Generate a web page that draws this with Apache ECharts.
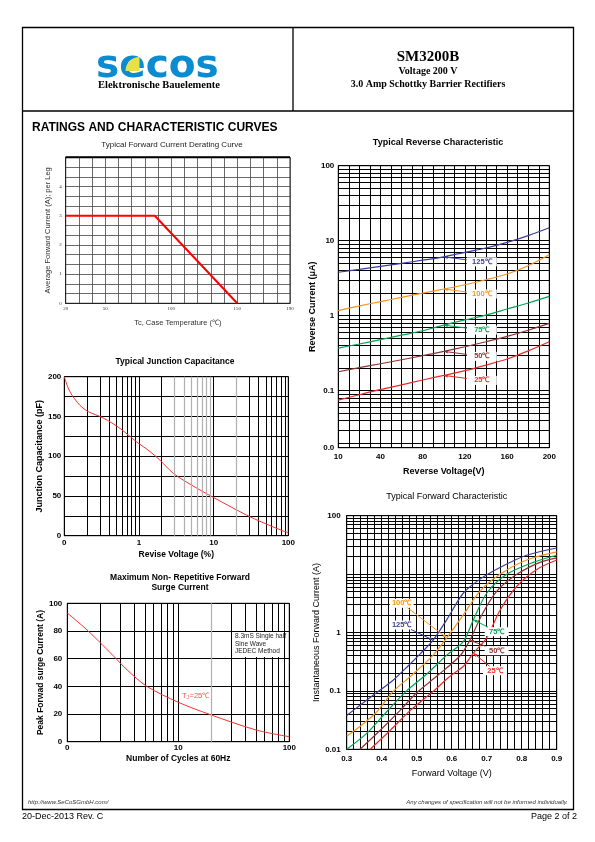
<!DOCTYPE html>
<html>
<head>
<meta charset="utf-8">
<title>SM3200B</title>
<script src="https://cdn.jsdelivr.net/npm/echarts@6/dist/echarts.min.js"></script>
<style>
html,body{margin:0;padding:0;background:#fff;}
#chart{width:595px;height:842px;}
</style>
</head>
<body>
<div id="chart"></div>
<script>
// ---------------- data ----------------
// Typical Forward Current Derating Curve
const deratingTemp = [20, 87.5, 150];
const deratingAmps = [3, 3, 0];
const deratingTempTicks = [20, 50, 100, 150, 190];

// Typical Reverse Characteristic
const revVoltTicks = [10, 40, 80, 120, 160, 200];
const revVoltSamples = [10, 25, 40, 60, 80, 100, 120, 140, 160, 180, 200];
const rev125 = [3.8, 4.16, 4.56, 5.0, 5.5, 6.1, 7.0, 8.0, 9.5, 11.7, 14.9];
const rev100 = [1.17, 1.35, 1.54, 1.76, 2.0, 2.27, 2.59, 3.02, 3.6, 4.64, 6.5];
const rev75 = [0.37, 0.42, 0.48, 0.55, 0.63, 0.75, 0.88, 1.02, 1.23, 1.48, 1.81];
const rev50 = [0.179, 0.203, 0.229, 0.259, 0.293, 0.335, 0.386, 0.45, 0.53, 0.64, 0.79];
const rev25 = [0.075, 0.0885, 0.104, 0.12, 0.139, 0.16, 0.185, 0.22, 0.265, 0.34, 0.45];
const revCurTickVals = [0.0174, 0.1, 1, 10, 100];
const revCurTickText = ['0.0', '0.1', '1', '10', '100'];

// Typical Junction Capacitance
const capVolt = [0.1, 0.119, 0.162, 0.21, 0.333, 0.557, 0.93, 1.4, 1.91, 2.88, 5, 10, 27.5, 46, 85, 100];
const capPF = [200, 181, 164, 156, 148, 135, 118, 106, 95, 78.5, 64, 48, 26, 16.4, 6, 4];
const capVoltTickVals = [0.1, 1, 10, 100];
const capVoltTickText = ['0', '1', '10', '100'];

// Maximum Non-Repetitive Forward Surge Current
const surgeCycles = [1, 1.4, 1.9, 2.6, 3.5, 5.2, 10, 19.5, 50, 100];
const surgeAmps = [93, 83, 73, 62, 51.5, 40, 28.5, 19.5, 8.5, 3.6];
const surgeTickVals = [1, 10, 100];
const surgeTickText = ['0', '10', '100'];

// Typical Forward Characteristic
const fwd125V = [0.30, 0.34, 0.39, 0.43, 0.476, 0.51, 0.547, 0.586, 0.633, 0.681, 0.738, 0.814, 0.90];
const fwd125I = [0.038, 0.058, 0.098, 0.148, 0.27, 0.43, 0.74, 1.66, 4.7, 8.2, 13, 21, 28];
const fwd100V = [0.30, 0.343, 0.386, 0.433, 0.49, 0.547, 0.586, 0.633, 0.681, 0.738, 0.814, 0.90];
const fwd100I = [0.0167, 0.026, 0.044, 0.098, 0.195, 0.41, 0.81, 2.0, 5.1, 9.9, 17.4, 24];
const fwd75V = [0.30, 0.357, 0.414, 0.471, 0.529, 0.586, 0.633, 0.662, 0.70, 0.757, 0.833, 0.90];
const fwd75I = [0.01, 0.0187, 0.044, 0.10, 0.195, 0.41, 0.70, 1.66, 4.7, 9.9, 15.9, 21];
const fwd50V = [0.338, 0.395, 0.452, 0.50, 0.557, 0.624, 0.652, 0.686, 0.729, 0.786, 0.852, 0.90];
const fwd50I = [0.01, 0.021, 0.046, 0.093, 0.178, 0.40, 0.74, 2.0, 5.1, 9.9, 15.9, 19];
const fwd25V = [0.367, 0.424, 0.481, 0.547, 0.595, 0.635, 0.662, 0.70, 0.738, 0.786, 0.843, 0.90];
const fwd25I = [0.01, 0.021, 0.046, 0.098, 0.178, 0.27, 0.445, 0.81, 2.4, 6.2, 12, 17.4];
const fwdCurTickVals = [0.01, 0.1, 1, 100];
const fwdCurTickText = ['0.01', '0.1', '1', '100'];

// ---------------- helpers ----------------
const FONT = "'Liberation Sans', Arial, Helvetica, sans-serif";
const SERIF = "'Liberation Serif', 'Times New Roman', serif";
const COL = { blue: '#3d3d9c', orange: '#f7941d', green: '#00a651', brown: '#8e3434', red: '#ee2a2a' };

function zip(a, b) { return a.map(function (x, i) { return [x, b[i]]; }); }
function logTickText(vals, texts) {
  return function (v) {
    for (let i = 0; i < vals.length; i++) {
      if (Math.abs(Math.log10(v) - Math.log10(vals[i])) < 0.01) return texts[i];
    }
    return '';
  };
}
// categories for the reverse chart: every label interval split in 4
const revVoltCats = [];
for (let i = 0; i < revVoltTicks.length - 1; i++) {
  const a = revVoltTicks[i], b = revVoltTicks[i + 1];
  for (let k = 0; k < 4; k++) revVoltCats.push(String(+(a + (b - a) * k / 4).toFixed(2)));
}
revVoltCats.push(String(revVoltTicks[revVoltTicks.length - 1]));

function revSeries(vals, color) {
  return { type: 'line', xAxisIndex: 1, yAxisIndex: 1, smooth: 0.3, symbol: 'none', z: 3,
    data: revVoltSamples.map(function (v, i) { return [String(v), vals[i]]; }),
    lineStyle: { color: color, width: 1.2 }, itemStyle: { color: color } };
}
function fwdSeries(vs, is, color) {
  return { type: 'line', xAxisIndex: 4, yAxisIndex: 4, smooth: 0.3, symbol: 'none', z: 3,
    data: zip(vs, is), lineStyle: { color: color, width: 1.2 }, itemStyle: { color: color } };
}
const axLine = { show: true, lineStyle: { color: '#000', width: 1 } };
const blackSplit = { show: true, lineStyle: { color: '#000', width: 1, type: 'solid' } };
const boldLabel = { fontSize: 8, fontWeight: 'bold', color: '#000', fontFamily: FONT };
const boldName = function (size) { return { fontSize: size, fontWeight: 'bold', color: '#000', fontFamily: FONT }; };

function txt(text, x, y, size, o) {
  o = o || {};
  return { type: 'text', x: x, y: y, z: o.z || 30,
    style: { text: text, fontSize: size, fontWeight: o.weight || 'normal', fontStyle: o.style || 'normal',
      fontFamily: o.family || FONT, fill: o.color || '#000', align: o.align || 'center', verticalAlign: 'middle' } };
}

// ---------------- option ----------------
const grids = [
  { left: 65.7, top: 157.3, width: 224.3, height: 146, show: true, borderColor: '#222', borderWidth: 1 },
  { left: 338.3, top: 165.7, width: 211, height: 282, show: true, borderColor: '#000', borderWidth: 1 },
  { left: 64.3, top: 376.7, width: 224, height: 159, show: true, borderColor: '#000', borderWidth: 1 },
  { left: 67.3, top: 603.3, width: 222, height: 138.4, show: true, borderColor: '#000', borderWidth: 1 },
  { left: 346.7, top: 515.7, width: 210, height: 233.6, show: true, borderColor: '#000', borderWidth: 1 }
];

const xAxes = [
  { gridIndex: 0, type: 'value', min: 20, max: 190, interval: 10,
    axisLine: { show: true, lineStyle: { color: '#222', width: 1 } }, axisTick: { show: false },
    axisLabel: { fontSize: 5, color: '#333', fontFamily: SERIF, margin: 3,
      formatter: function (v) { return deratingTempTicks.indexOf(v) >= 0 ? String(v) : ''; } },
    splitLine: { show: true, lineStyle: { color: '#444', width: 0.8 } },
    name: 'Tc, Case Temperature (℃)', nameLocation: 'middle', nameGap: 15.5,
    nameTextStyle: { fontSize: 7.5, color: '#333', fontFamily: FONT } },
  { gridIndex: 1, type: 'category', boundaryGap: false, data: revVoltCats,
    axisLine: axLine, axisTick: { show: false },
    axisLabel: Object.assign({ interval: 3, margin: 5 }, boldLabel),
    splitLine: { show: true, interval: 0, lineStyle: { color: '#000', width: 1 } },
    name: 'Reverse Voltage(V)', nameLocation: 'middle', nameGap: 19.5, nameTextStyle: boldName(9) },
  { gridIndex: 2, type: 'log', logBase: 10, min: 0.1, max: 100,
    axisLine: axLine, axisTick: { show: false },
    axisLabel: Object.assign({ margin: 3, formatter: logTickText(capVoltTickVals, capVoltTickText) }, boldLabel),
    splitLine: blackSplit, minorTick: { show: false, splitNumber: 9 }, minorSplitLine: blackSplit,
    name: 'Revise Voltage (%)', nameLocation: 'middle', nameGap: 14, nameTextStyle: boldName(8.5) },
  { gridIndex: 3, type: 'log', logBase: 10, min: 1, max: 100,
    axisLine: axLine, axisTick: { show: false },
    axisLabel: Object.assign({ margin: 2, formatter: logTickText(surgeTickVals, surgeTickText) }, boldLabel),
    splitLine: blackSplit, minorTick: { show: false, splitNumber: 9 }, minorSplitLine: blackSplit,
    name: 'Number of Cycles at 60Hz', nameLocation: 'middle', nameGap: 12.5, nameTextStyle: boldName(8.5) },
  { gridIndex: 4, type: 'value', min: 0.3, max: 0.9, interval: 0.1,
    axisLine: axLine, axisTick: { show: false },
    axisLabel: Object.assign({ margin: 5, formatter: function (v) { return v.toFixed(1); } }, boldLabel),
    splitLine: blackSplit, minorTick: { show: false, splitNumber: 5 }, minorSplitLine: blackSplit,
    name: 'Forward Voltage (V)', nameLocation: 'middle', nameGap: 20,
    nameTextStyle: { fontSize: 9, color: '#000', fontFamily: FONT } }
];

const yAxes = [
  { gridIndex: 0, type: 'value', min: 0, max: 5, interval: 1,
    axisLine: { show: true, lineStyle: { color: '#222', width: 1 } }, axisTick: { show: false },
    axisLabel: { fontSize: 5, color: '#333', fontFamily: SERIF, margin: 4,
      formatter: function (v) { return v < 5 ? String(v) : ''; } },
    splitLine: { show: true, lineStyle: { color: '#444', width: 0.8 } },
    minorTick: { show: false, splitNumber: 3 }, minorSplitLine: { show: true, lineStyle: { color: '#444', width: 0.8 } },
    name: 'Average Forward Current (A); per Leg', nameLocation: 'middle', nameGap: 13.5,
    nameTextStyle: { fontSize: 7.5, color: '#333', fontFamily: FONT } },
  { gridIndex: 1, type: 'log', logBase: 10, min: revCurTickVals[0], max: 100,
    axisLine: axLine, axisTick: { show: false },
    axisLabel: Object.assign({ margin: 4, formatter: logTickText(revCurTickVals, revCurTickText) }, boldLabel),
    splitLine: blackSplit, minorTick: { show: false, splitNumber: 9 }, minorSplitLine: blackSplit,
    name: 'Reverse Current (μA)', nameLocation: 'middle', nameGap: 21, nameTextStyle: boldName(9) },
  { gridIndex: 2, type: 'value', min: 0, max: 200, interval: 50,
    axisLine: axLine, axisTick: { show: false },
    axisLabel: Object.assign({ margin: 3 }, boldLabel),
    splitLine: blackSplit, minorTick: { show: false, splitNumber: 2 }, minorSplitLine: blackSplit,
    name: 'Junction Capacitance (pF)', nameLocation: 'middle', nameGap: 18, nameTextStyle: boldName(9) },
  { gridIndex: 3, type: 'value', min: 0, max: 100, interval: 20,
    axisLine: axLine, axisTick: { show: false },
    axisLabel: Object.assign({ margin: 5 }, boldLabel),
    splitLine: blackSplit,
    name: 'Peak Forwad surge Current (A)', nameLocation: 'middle', nameGap: 20, nameTextStyle: boldName(8.5) },
  { gridIndex: 4, type: 'log', logBase: 10, min: fwdCurTickVals[0], max: 100,
    axisLine: axLine, axisTick: { show: false },
    axisLabel: Object.assign({ margin: 6, formatter: logTickText(fwdCurTickVals, fwdCurTickText) }, boldLabel),
    splitLine: blackSplit, minorTick: { show: false, splitNumber: 9 }, minorSplitLine: blackSplit,
    name: 'Instantaneous Forward Current (A)', nameLocation: 'middle', nameGap: 21,
    nameTextStyle: { fontSize: 9, color: '#000', fontFamily: FONT } }
];

// lighter vertical grid lines, as in the datasheet grid
function vLines(xi, yi, values, color) {
  return { type: 'line', xAxisIndex: xi, yAxisIndex: yi, data: [], z: 1, silent: true, symbol: 'none',
    markLine: { silent: true, symbol: 'none', animation: false, label: { show: false },
      lineStyle: { color: color, width: 1.2, type: 'solid' },
      data: values.map(function (v) { return { xAxis: v }; }) } };
}

const series = [
  { type: 'line', xAxisIndex: 0, yAxisIndex: 0, symbol: 'none', data: zip(deratingTemp, deratingAmps),
    lineStyle: { color: '#ff0000', width: 2 }, itemStyle: { color: '#ff0000' } },
  revSeries(rev125, COL.blue), revSeries(rev100, COL.orange), revSeries(rev75, COL.green),
  revSeries(rev50, COL.brown), revSeries(rev25, COL.red),
  { type: 'line', xAxisIndex: 2, yAxisIndex: 2, smooth: 0.3, symbol: 'none', z: 3, data: zip(capVolt, capPF),
    lineStyle: { color: '#ff3030', width: 1 }, itemStyle: { color: '#ff3030' } },
  { type: 'line', xAxisIndex: 3, yAxisIndex: 3, smooth: 0.3, symbol: 'none', z: 3, data: zip(surgeCycles, surgeAmps),
    lineStyle: { color: '#ff3030', width: 1 }, itemStyle: { color: '#ff3030' } },
  fwdSeries(fwd125V, fwd125I, COL.blue), fwdSeries(fwd100V, fwd100I, COL.orange),
  fwdSeries(fwd75V, fwd75I, COL.green), fwdSeries(fwd50V, fwd50I, COL.brown),
  fwdSeries(fwd25V, fwd25I, COL.red),
  vLines(2, 2, [3, 4, 5, 6, 7, 8, 9, 20], '#b0b0b0'),
  vLines(3, 3, [20], '#b0b0b0')
];

const staticGraphics = [
  { type: 'rect', z: 40, shape: { x: 22.5, y: 27.5, width: 551, height: 782 }, style: { fill: 'none', stroke: '#000', lineWidth: 1.3 } },
  { type: 'line', z: 40, shape: { x1: 22.5, y1: 111, x2: 573.5, y2: 111 }, style: { stroke: '#000', lineWidth: 1.3 } },
  { type: 'line', z: 40, shape: { x1: 293, y1: 27.5, x2: 293, y2: 111 }, style: { stroke: '#000', lineWidth: 1.3 } },
  // logo
  { type: 'text', x: 96, y: 67, z: 30, style: { text: 'secos', fontSize: 39, fontWeight: 'bold', fontFamily: "'DejaVu Sans', sans-serif", fill: '#0b8bd0', align: 'left', verticalAlign: 'middle' } },
  { type: 'sector', z: 31, shape: { cx: 139.5, cy: 71, r0: 0, r: 14, startAngle: Math.PI, endAngle: Math.PI * 1.5, clockwise: true }, style: { fill: '#e8e04a' } },
  txt('Elektronische Bauelemente', 159, 85.5, 10.5, { weight: 'bold', family: SERIF }),
  txt('SM3200B', 428, 57, 15, { weight: 'bold', family: SERIF }),
  txt('Voltage 200 V', 428, 71.5, 10, { weight: 'bold', family: SERIF }),
  txt('3.0 Amp Schottky Barrier Rectifiers', 428, 84.5, 10, { weight: 'bold', family: SERIF }),
  txt('RATINGS AND CHARACTERISTIC CURVES', 32, 128, 12, { weight: 'bold', align: 'left' }),
  // chart titles
  txt('Typical Forward Current Derating Curve', 172, 145, 8, { color: '#222' }),
  txt('Typical Reverse Characteristic', 438, 143, 9, { weight: 'bold' }),
  txt('Typical Junction Capacitance', 175, 361.5, 8.5, { weight: 'bold' }),
  txt('Maximum Non- Repetitive Forward', 180, 577.5, 8.5, { weight: 'bold' }),
  txt('Surge Current', 180, 588, 8.5, { weight: 'bold' }),
  txt('Typical Forward Characteristic', 446.7, 497, 9),
  // derating chart heavier top frame
  { type: 'line', z: 30, shape: { x1: 65.7, y1: 157.3, x2: 290, y2: 157.3 }, style: { stroke: '#000', lineWidth: 2 } },
  // surge annotations
  { type: 'rect', z: 30, shape: { x: 234, y: 632, width: 50, height: 25 }, style: { fill: '#fff' } },
  txt('8.3mS Single half', 235, 636.7, 6.5, { align: 'left', color: '#222', z: 31 }),
  txt('Sine Wave', 235, 644.2, 6.5, { align: 'left', color: '#222', z: 31 }),
  txt('JEDEC Method', 235, 651.7, 6.5, { align: 'left', color: '#222', z: 31 }),
  txt('T', 182, 696, 7.5, { align: 'left', color: '#ff4d4d' }),
  txt('J', 186.6, 698, 5, { align: 'left', color: '#ff4d4d' }),
  txt('=25℃', 189.5, 696, 7.5, { align: 'left', color: '#ff4d4d' }),
  // footer
  txt('http://www.SeCoSGmbH.com/', 28, 802.5, 6, { align: 'left', style: 'italic', color: '#333' }),
  txt('Any changes of specification will not be informed individually.', 568, 802.5, 6, { align: 'right', style: 'italic', color: '#333' }),
  txt('20-Dec-2013 Rev. C', 22, 817, 9, { align: 'left' }),
  txt('Page 2 of 2', 577, 817, 9, { align: 'right' })
];

const option = {
  animation: false,
  backgroundColor: '#fff',
  textStyle: { fontFamily: FONT },
  grid: grids,
  xAxis: xAxes,
  yAxis: yAxes,
  series: series,
  graphic: staticGraphics
};

const chart = echarts.init(document.getElementById('chart'), null, { renderer: 'canvas', width: 595, height: 842 });
chart.setOption(option);

// ---------- curve labels with arrows: label box in the layout, arrow tip on a curve point ----------
function annotAt(xi, yi, tipData, cx, cy, text, color, w, h) {
  const tip = chart.convertToPixel({ xAxisIndex: xi, yAxisIndex: yi }, tipData);
  const vx = tip[0] - cx, vy = tip[1] - cy;
  const s = Math.min((w / 2) / Math.max(Math.abs(vx), 1e-6), (h / 2) / Math.max(Math.abs(vy), 1e-6));
  const sx = cx + vx * s, sy = cy + vy * s;
  const len = Math.hypot(tip[0] - sx, tip[1] - sy) || 1;
  const ux = (tip[0] - sx) / len, uy = (tip[1] - sy) / len;
  const L = 4, W = 1.7;
  return [
    { type: 'rect', z: 20, shape: { x: cx - w / 2, y: cy - h / 2, width: w, height: h }, style: { fill: '#fff' } },
    { type: 'line', z: 21, shape: { x1: sx, y1: sy, x2: tip[0] - ux * 2, y2: tip[1] - uy * 2 }, style: { stroke: color, lineWidth: 1 } },
    { type: 'polygon', z: 21, shape: { points: [[tip[0], tip[1]], [tip[0] - ux * L - uy * W, tip[1] - uy * L + ux * W], [tip[0] - ux * L + uy * W, tip[1] - uy * L - ux * W]] }, style: { fill: color } },
    { type: 'text', z: 22, x: cx, y: cy, style: { text: text, fill: color, fontSize: 7.5, fontWeight: 'bold', fontFamily: FONT, align: 'center', verticalAlign: 'middle' } }
  ];
}
function annotOff(xi, yi, tipData, dx, dy, text, color, w, h) {
  const tip = chart.convertToPixel({ xAxisIndex: xi, yAxisIndex: yi }, tipData);
  return annotAt(xi, yi, tipData, tip[0] + dx, tip[1] + dy, text, color, w, h);
}
let ann = [];
const revTipCat = String(revVoltSamples[5]);
ann = ann.concat(annotOff(1, 1, [revTipCat, rev125[5]], 38, 5, '125℃', COL.blue, 30, 9));
ann = ann.concat(annotOff(1, 1, [revTipCat, rev100[5]], 38, 5, '100℃', COL.orange, 30, 9));
ann = ann.concat(annotOff(1, 1, [revTipCat, rev75[5]], 38, 5, '75℃', COL.green, 30, 9));
ann = ann.concat(annotOff(1, 1, [revTipCat, rev50[5]], 38, 5, '50℃', COL.brown, 30, 9));
ann = ann.concat(annotOff(1, 1, [revTipCat, rev25[5]], 38, 5, '25℃', COL.red, 30, 9));
ann = ann.concat(annotAt(4, 4, [fwd100V[6], fwd100I[6]], 401.7, 603.3, '100℃', COL.orange, 24, 9));
ann = ann.concat(annotAt(4, 4, [fwd125V[6], fwd125I[6]], 401.7, 625, '125℃', COL.blue, 24, 9));
ann = ann.concat(annotAt(4, 4, [fwd75V[7], fwd75I[7]], 496.7, 631.7, '75℃', COL.green, 24, 9));
ann = ann.concat(annotAt(4, 4, [fwd50V[6], fwd50I[6]], 496.7, 650.7, '50℃', COL.brown, 24, 9));
ann = ann.concat(annotAt(4, 4, [fwd25V[6], fwd25I[6]], 495, 670.7, '25℃', COL.red, 24, 9));

chart.setOption({ graphic: staticGraphics.concat(ann) });
</script>
</body>
</html>
